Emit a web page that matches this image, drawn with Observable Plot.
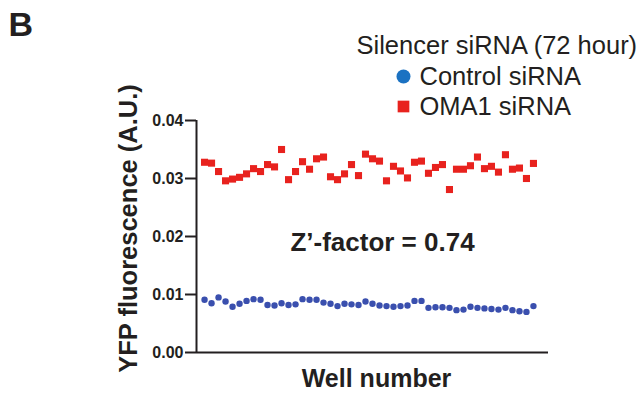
<!DOCTYPE html>
<html>
<head>
<meta charset="utf-8">
<script src="https://cdn.jsdelivr.net/npm/d3@7"></script>
<script src="https://cdn.jsdelivr.net/npm/@observablehq/plot@0.6"></script>
<style>
  html, body { margin: 0; padding: 0; background: #fff; }
  #chart { width: 640px; height: 394px; }
</style>
</head>
<body>
<div id="chart"></div>
<script>
// Well positions 1..48
const wells = d3.range(1, 49);

// OMA1 siRNA (red squares)
const omaValues = [
  0.0328, 0.03265, 0.0312, 0.0296, 0.0299, 0.0302, 0.0308, 0.0317, 0.0312, 0.0324,
  0.0320, 0.0350, 0.0298, 0.0312, 0.0329, 0.0316, 0.0334, 0.0337, 0.0303, 0.0298,
  0.0308, 0.0324, 0.0305, 0.0342, 0.0334, 0.0330, 0.0296, 0.0321, 0.0313, 0.0301,
  0.0328, 0.0330, 0.0309, 0.0319, 0.0324, 0.0281, 0.0316, 0.0316, 0.0322, 0.0337,
  0.0317, 0.0321, 0.0311, 0.0341, 0.0316, 0.0318, 0.0300, 0.0326
];

// Control siRNA (blue circles)
const controlValues = [
  0.0091, 0.0085, 0.0095, 0.0088, 0.0079, 0.0084, 0.0089, 0.0092, 0.0091, 0.0082,
  0.0081, 0.0085, 0.0082, 0.0083, 0.0092, 0.0091, 0.0091, 0.0086, 0.0084, 0.0080,
  0.0084, 0.0083, 0.0082, 0.0088, 0.0084, 0.0081, 0.0080, 0.0079, 0.0080, 0.0081,
  0.0089, 0.0089, 0.0077, 0.0078, 0.0078, 0.0077, 0.0073, 0.0074, 0.0079, 0.0077,
  0.0076, 0.0075, 0.0074, 0.0077, 0.0073, 0.0071, 0.0070, 0.0080
];

const yTicks = [0, 0.01, 0.02, 0.03, 0.04];
const legendTitle = "Silencer siRNA (72 hour)";
const seriesNames = ["Control siRNA", "OMA1 siRNA"];
const panelLabel = "B";
const annotation = "Z\u2019-factor = 0.74";
const xLabel = "Well number";
const yLabel = "YFP fluorescence (A.U.)";

const controlColor = "#3a4fae";
const legendBlue = "#1b72c2";
const red = "#e8221e";
const ink = "#231f20";

const omaData = wells.map((w, i) => ({well: w, value: omaValues[i]}));
const ctrlData = wells.map((w, i) => ({well: w, value: controlValues[i]}));

const xDomain = [-0.15, 50.15];
const one = [0];

const plot = Plot.plot({
  width: 640,
  height: 394,
  marginLeft: 196,
  marginRight: 92,
  marginTop: 120,
  marginBottom: 42,
  style: {fontFamily: "Arial, 'Liberation Sans', Helvetica, sans-serif", color: ink, background: "#fff"},
  x: {domain: xDomain, axis: null},
  y: {domain: [0, 0.04], axis: null},
  marks: [
    Plot.axisY({ticks: yTicks, tickFormat: d3.format(".2f"), tickSize: 11, tickPadding: 2, label: null,
      fontSize: 16, fontWeight: "bold", stroke: ink, strokeWidth: 2, fill: ink}),
    Plot.ruleX([xDomain[0]], {y1: 0, y2: 0.04, stroke: ink, strokeWidth: 2}),
    Plot.ruleY([0], {stroke: ink, strokeWidth: 2}),
    Plot.dot(ctrlData, {x: "well", y: "value", r: 3.2, fill: controlColor, stroke: "none"}),
    Plot.dot(omaData, {x: "well", y: "value", symbol: "square", r: 4.0, fill: red, stroke: "none"}),
    // annotation
    Plot.text(one, {frameAnchor: "top-left", lineAnchor: "middle", dx: 186, dy: 122, text: () => annotation,
      textAnchor: "middle", fontSize: 26, fontWeight: "bold", fill: ink}),
    // axis titles
    Plot.text(one, {frameAnchor: "bottom", lineAnchor: "middle", dx: 4, dy: 26, text: () => xLabel,
      textAnchor: "middle", fontSize: 25, fontWeight: "bold", fill: ink}),
    Plot.text(one, {frameAnchor: "left", lineAnchor: "middle", dx: -68, dy: -8, rotate: -90, text: () => yLabel,
      textAnchor: "middle", fontSize: 25.5, fontWeight: "bold", fill: ink}),
    // panel label
    Plot.text(one, {frameAnchor: "top-left", lineAnchor: "middle", dx: -188, dy: -95, text: () => panelLabel,
      textAnchor: "start", fontSize: 34, fontWeight: "bold", fill: ink}),
    // legend
    Plot.text(one, {frameAnchor: "top-left", lineAnchor: "middle", dx: 160, dy: -75, text: () => legendTitle,
      textAnchor: "start", fontSize: 25.5, fill: ink}),
    Plot.dot(one, {frameAnchor: "top-left", dx: 207, dy: -44, r: 7, fill: legendBlue, stroke: "none"}),
    Plot.dot(one, {frameAnchor: "top-left", dx: 207, dy: -14, symbol: "square", r: 6.6, fill: red, stroke: "none"}),
    Plot.text(one, {frameAnchor: "top-left", lineAnchor: "middle", dx: 223, dy: -44, text: () => seriesNames[0],
      textAnchor: "start", fontSize: 25.5, fill: ink}),
    Plot.text(one, {frameAnchor: "top-left", lineAnchor: "middle", dx: 223, dy: -14, text: () => seriesNames[1],
      textAnchor: "start", fontSize: 25.5, fill: ink})
  ]
});
document.getElementById("chart").appendChild(plot);
</script>
</body>
</html>
